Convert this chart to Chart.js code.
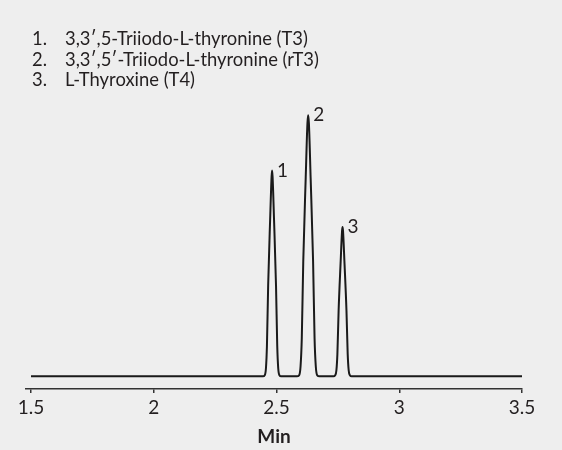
<!DOCTYPE html>
<html>
<head>
<meta charset="utf-8">
<script src="https://cdn.jsdelivr.net/npm/chart.js@4.4.0/dist/chart.umd.min.js"></script>
<style>
html,body{margin:0;padding:0;background:#eeeeee;}
#wrap{width:562px;height:450px;position:relative;}
</style>
</head>
<body>
<div id="wrap"><canvas id="c" width="562" height="450"></canvas></div>
<script>
const times = [1.5, 2.445, 2.452, 2.457, 2.461, 2.466, 2.474, 2.480, 2.482, 2.484, 2.490, 2.498, 2.503, 2.507, 2.512, 2.519, 2.583, 2.592, 2.598, 2.603, 2.609, 2.619, 2.626, 2.629, 2.632, 2.639, 2.649, 2.655, 2.660, 2.666, 2.675, 2.732, 2.739, 2.744, 2.748, 2.753, 2.761, 2.767, 2.769, 2.771, 2.777, 2.785, 2.790, 2.794, 2.799, 2.806, 3.5];
const signal = [0, 0, 1, 8, 30, 90, 155, 198, 204, 198, 155, 90, 30, 8, 1, 0, 0, 1, 10, 38, 114, 197, 251, 259, 251, 197, 114, 38, 10, 1, 0, 0, 1, 6, 22, 65, 112, 144, 148, 144, 112, 65, 22, 6, 1, 0, 0];
const tickValues = [1.5, 2, 2.5, 3, 3.5];
const tickLabels = ['1.5', '2', '2.5', '3', '3.5'];
const peakLabels = ['1', '2', '3'];
const peakTimes = [2.482, 2.629, 2.769];
const peakHeights = [204, 259, 148];
const legendNumbers = ['1.', '2.', '3.'];
const legendNames = ['3,3\u2032,5-Triiodo-L-thyronine (T3)', '3,3\u2032,5\u2032-Triiodo-L-thyronine (rT3)', 'L-Thyroxine (T4)'];
const axisTitle = 'Min';

const FONT = 'Lato';
const TXT = '#231f20';

const annot = {
  id: 'annot',
  afterDraw(chart) {
    const ctx = chart.ctx;
    const xs = chart.scales.x, ys = chart.scales.y;
    ctx.save();
    ctx.fillStyle = TXT;
    ctx.font = '19px ' + FONT;
    ctx.textBaseline = 'middle';
    ctx.textAlign = 'left';
    for (let i = 0; i < peakLabels.length; i++) {
      ctx.fillText(peakLabels[i], xs.getPixelForValue(peakTimes[i]) + 5, ys.getPixelForValue(peakHeights[i]));
    }
    ctx.font = '18.4px ' + FONT;
    ctx.textBaseline = 'alphabetic';
    for (let i = 0; i < legendNames.length; i++) {
      const y = 45 + i * 20.5;
      ctx.fillText(legendNumbers[i], 32, y);
      ctx.fillText(legendNames[i], 65, y);
    }
    ctx.restore();
  }
};

new Chart(document.getElementById('c'), {
  type: 'line',
  data: {
    datasets: [{
      data: times.map((t, i) => ({x: t, y: signal[i]})),
      borderColor: '#1a1a1a',
      borderWidth: 2,
      pointRadius: 0,
      tension: 0,
      cubicInterpolationMode: 'monotone',
      fill: false
    }]
  },
  options: {
    responsive: false,
    animation: false,
    events: [],
    layout: {padding: {top: 100, left: 26, right: 40, bottom: 2}},
    plugins: {legend: {display: false}, tooltip: {enabled: false}},
    scales: {
      x: {
        type: 'linear',
        min: 1.4796,
        max: 3.5,
        afterBuildTicks(scale) { scale.ticks = tickValues.map(v => ({value: v})); },
        ticks: {
          callback(v) { const k = tickValues.indexOf(v); return k >= 0 ? tickLabels[k] : ''; },
          font: {family: FONT, size: 19},
          color: TXT,
          padding: 4,
          maxRotation: 0,
          autoSkip: false
        },
        grid: {display: true, drawOnChartArea: false, drawTicks: true, tickLength: 4, color: '#333', lineWidth: 1.5},
        border: {display: true, color: '#333', width: 1.5},
        title: {display: true, text: axisTitle, font: {family: FONT, size: 19, weight: 'bold'}, color: TXT, padding: {top: 1.5, bottom: 0}}
      },
      y: {
        display: false,
        min: -12.5,
        max: 274
      }
    }
  },
  plugins: [annot]
});
</script>
</body>
</html>
